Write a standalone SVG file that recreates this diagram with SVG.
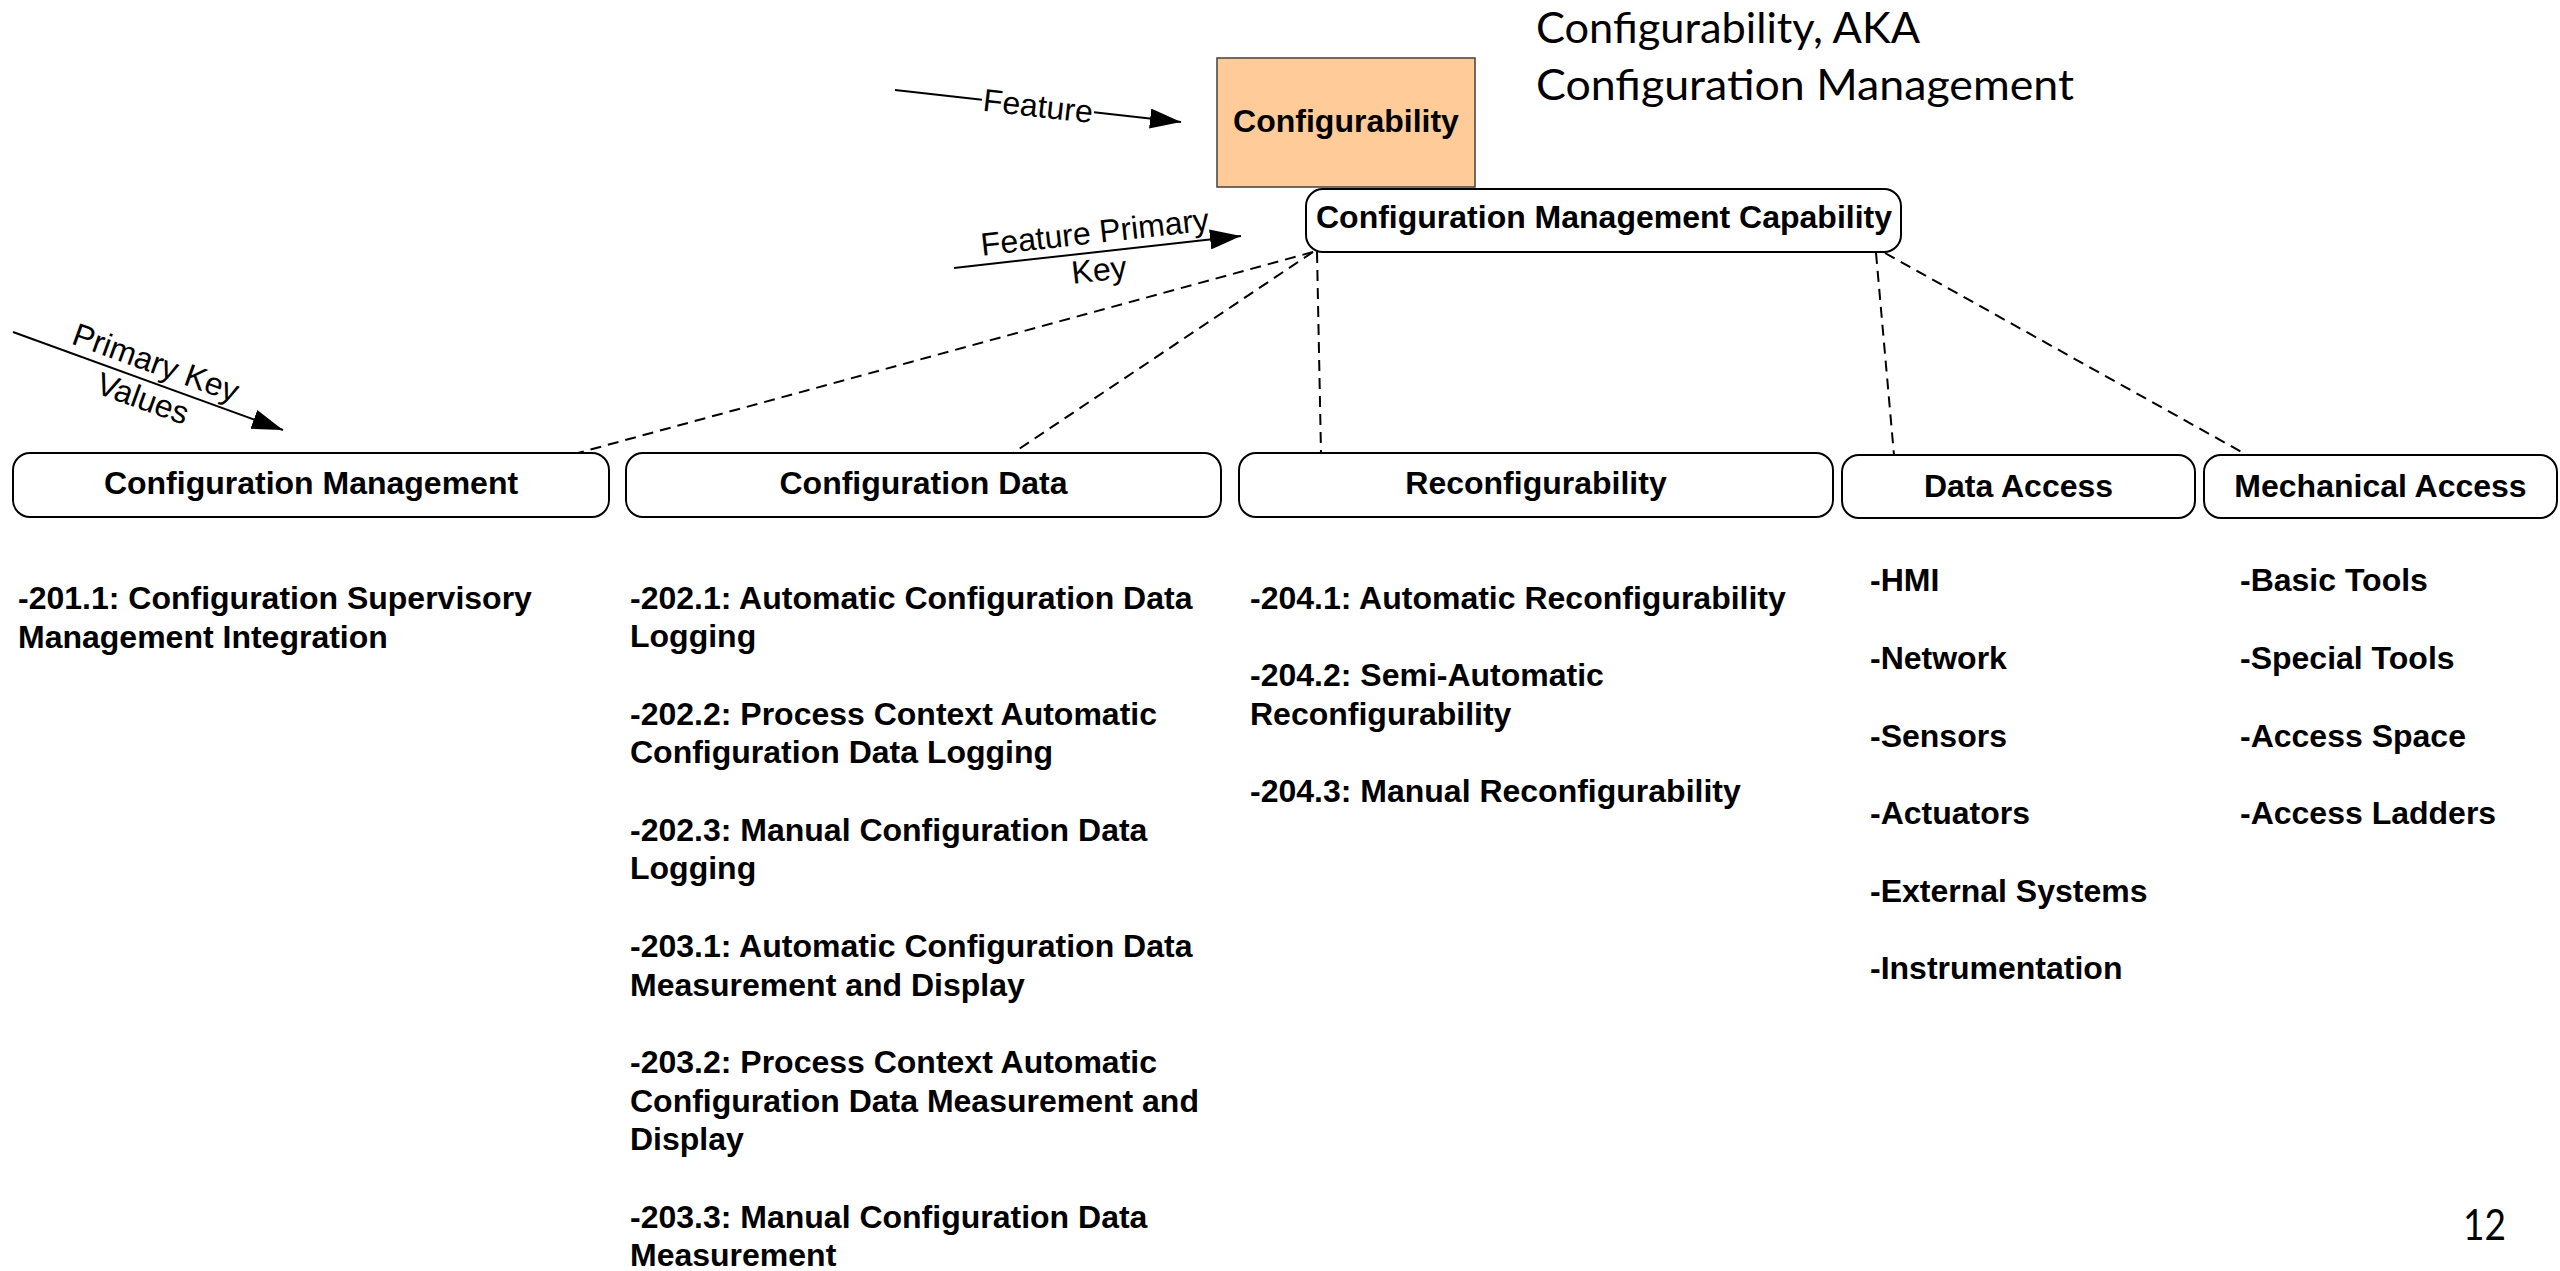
<svg xmlns="http://www.w3.org/2000/svg" width="2560" height="1271" viewBox="0 0 2560 1271">
<style>
  .box { fill: #ffffff; stroke: #000000; stroke-width: 2; }
  .feat { fill: #FFCC99; stroke: #404040; stroke-width: 1.5; }
  .lbl { font-family: "Liberation Sans", Arial, sans-serif; font-size: 32px; font-weight: bold; fill: #000; }
  .mid { text-anchor: middle; }
  .conn { stroke: #000; stroke-width: 2; fill: none; }
  .dash { stroke: #000; stroke-width: 2; fill: none; stroke-dasharray: 11 7; }
  .rot { font-family: "Liberation Sans", Arial, sans-serif; font-size: 32px; fill: #000; text-anchor: middle; }
  .title { font-family: Lato, "Open Sans", sans-serif; font-size: 42px; fill: #000; }
</style>
<defs>
  <marker id="arr" markerUnits="userSpaceOnUse" markerWidth="32" markerHeight="20" refX="31" refY="10" orient="auto">
    <path d="M0,0 L31,10 L0,20 z" fill="#000"/>
  </marker>
</defs>
<rect width="2560" height="1271" fill="#ffffff"/>

<g id="title">
  <text class="title" x="1536" y="43" textLength="384" lengthAdjust="spacingAndGlyphs">Configurability, AKA</text>
  <text class="title" x="1536" y="100" textLength="538" lengthAdjust="spacingAndGlyphs">Configuration Management</text>
</g>

<g id="connectors">
  <line class="dash" x1="1313" y1="252" x2="578" y2="453"/>
  <line class="dash" x1="1313" y1="252" x2="1013" y2="453"/>
  <line class="dash" x1="1317" y1="252" x2="1321" y2="453"/>
  <line class="dash" x1="1876" y1="253" x2="1894" y2="455"/>
  <line class="dash" x1="1885" y1="253" x2="2247" y2="455"/>
  <!-- Feature arrow -->
  <line class="conn" x1="895" y1="90" x2="982" y2="99.7"/>
  <line class="conn" x1="1094" y1="112.2" x2="1181" y2="122" marker-end="url(#arr)"/>
  <text class="rot" transform="translate(1038,106) rotate(6.38)" x="0" y="11">Feature</text>
  <!-- Feature Primary Key arrow -->
  <line class="conn" x1="954" y1="268" x2="1241" y2="236" marker-end="url(#arr)"/>
  <text class="rot" transform="translate(1097,252) rotate(-6.36)"><tspan x="0" y="-9">Feature Primary</tspan><tspan x="0" y="29">Key</tspan></text>
  <!-- Primary Key Values arrow -->
  <line class="conn" x1="13" y1="332" x2="283" y2="430" marker-end="url(#arr)"/>
  <text class="rot" transform="translate(149,381.5) rotate(19.95)"><tspan x="0" y="-9">Primary Key</tspan><tspan x="0" y="29">Values</tspan></text>
</g>

<g id="node-configurability">
  <rect class="feat" x="1217" y="58" width="258" height="129"/>
  <text class="lbl mid" x="1346" y="132">Configurability</text>
</g>

<g id="node-cmc">
  <rect class="box" x="1306" y="189" width="595" height="63" rx="17" ry="17"/>
  <text class="lbl mid" x="1604" y="228">Configuration Management Capability</text>
</g>

<g id="node-config-management">
  <rect class="box" x="13" y="453" width="596" height="64" rx="17" ry="17"/>
  <text class="lbl mid" x="311" y="494">Configuration Management</text>
</g>
<g id="node-config-data">
  <rect class="box" x="626" y="453" width="595" height="64" rx="17" ry="17"/>
  <text class="lbl mid" x="923.5" y="494">Configuration Data</text>
</g>
<g id="node-reconfigurability">
  <rect class="box" x="1239" y="453" width="594" height="64" rx="17" ry="17"/>
  <text class="lbl mid" x="1536" y="494">Reconfigurability</text>
</g>
<g id="node-data-access">
  <rect class="box" x="1842" y="455" width="353" height="63" rx="17" ry="17"/>
  <text class="lbl mid" x="2018.5" y="497">Data Access</text>
</g>
<g id="node-mechanical-access">
  <rect class="box" x="2204" y="455" width="353" height="63" rx="17" ry="17"/>
  <text class="lbl mid" x="2380.5" y="497">Mechanical Access</text>
</g>

<g id="list-config-management">
  <text class="lbl"><tspan x="18" y="609">-201.1: Configuration Supervisory</tspan><tspan x="18" y="647.7">Management Integration</tspan></text>
</g>

<g id="list-config-data">
  <text class="lbl"><tspan x="630" y="608.5">-202.1: Automatic Configuration Data</tspan><tspan x="630" y="647.2">Logging</tspan></text>
  <text class="lbl"><tspan x="630" y="724.6">-202.2: Process Context Automatic</tspan><tspan x="630" y="763.3">Configuration Data Logging</tspan></text>
  <text class="lbl"><tspan x="630" y="840.7">-202.3: Manual Configuration Data</tspan><tspan x="630" y="879.4">Logging</tspan></text>
  <text class="lbl"><tspan x="630" y="956.8">-203.1: Automatic Configuration Data</tspan><tspan x="630" y="995.5">Measurement and Display</tspan></text>
  <text class="lbl"><tspan x="630" y="1072.9">-203.2: Process Context Automatic</tspan><tspan x="630" y="1111.6">Configuration Data Measurement and</tspan><tspan x="630" y="1150.3">Display</tspan></text>
  <text class="lbl"><tspan x="630" y="1227.7">-203.3: Manual Configuration Data</tspan><tspan x="630" y="1266.4">Measurement</tspan></text>
</g>

<g id="list-reconfigurability">
  <text class="lbl"><tspan x="1250" y="609">-204.1: Automatic Reconfigurability</tspan></text>
  <text class="lbl"><tspan x="1250" y="686">-204.2: Semi-Automatic</tspan><tspan x="1250" y="724.7">Reconfigurability</tspan></text>
  <text class="lbl"><tspan x="1250" y="802">-204.3: Manual Reconfigurability</tspan></text>
</g>

<g id="list-data-access">
  <text class="lbl" x="1870" y="591">-HMI</text>
  <text class="lbl" x="1870" y="669">-Network</text>
  <text class="lbl" x="1870" y="746.5">-Sensors</text>
  <text class="lbl" x="1870" y="824">-Actuators</text>
  <text class="lbl" x="1870" y="901.5">-External Systems</text>
  <text class="lbl" x="1870" y="979">-Instrumentation</text>
</g>

<g id="list-mechanical-access">
  <text class="lbl" x="2240" y="591">-Basic Tools</text>
  <text class="lbl" x="2240" y="669">-Special Tools</text>
  <text class="lbl" x="2240" y="746.5">-Access Space</text>
  <text class="lbl" x="2240" y="824">-Access Ladders</text>
</g>

<g id="page-number">
  <text class="title" x="2463" y="1240" textLength="43" lengthAdjust="spacingAndGlyphs">12</text>
</g>
</svg>
